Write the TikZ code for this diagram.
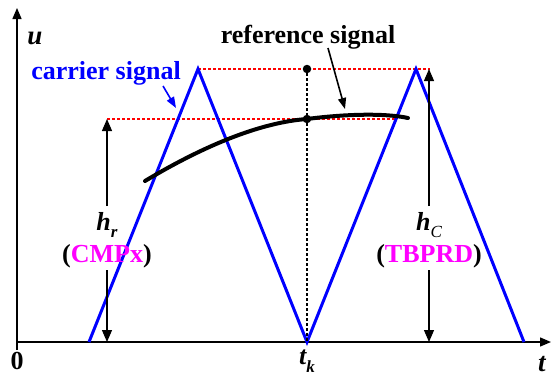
\documentclass[tikz,border=0pt]{standalone}
\usepackage{fontspec}
\setmainfont{Liberation Serif}
\usetikzlibrary{arrows.meta}
\definecolor{carrierblue}{RGB}{0,0,255}
\definecolor{regmag}{RGB}{255,0,255}
\tikzset{
  axisline/.style={line width=1.4pt,-{Triangle[length=11pt,width=9pt]}},
  carrier/.style={carrierblue,line width=3pt,line join=miter},
  refcurve/.style={black,line width=4pt,line cap=round},
  reddots/.style={red,line width=1.2pt,dash pattern=on 3pt off 2pt},
  blackdots/.style={black,line width=1.2pt,dash pattern=on 3pt off 2pt},
  dimarrow/.style={line width=1.2pt,-{Triangle[length=12pt,width=10pt]}},
  callout/.style={line width=1.6pt,-{Triangle[length=11pt,width=8pt]}},
  lbl/.style={font=\fontsize{26}{30}\selectfont\bfseries,inner sep=0pt},
  dot/.style={circle,fill=black,inner sep=0pt,minimum size=8.5pt}
}
\begin{document}
\begin{tikzpicture}[x=1pt,y=-1pt]
\useasboundingbox (0,0) rectangle (552,376);
% axes
\coordinate (O) at (17,342);
\coordinate (ytop) at (17,8);
\coordinate (xend) at (551,342);
\draw[axisline] (17,350) -- (ytop);
\draw[axisline] (O) -- (xend);
\node[lbl,font=\fontsize{27}{30}\selectfont\bfseries\itshape] (u) at (35,38) {u};
\node[lbl] (zero) at (17,361) {0};
\node[lbl,font=\fontsize{27}{30}\selectfont\bfseries\itshape,anchor=west] (t) at (538,364) {t};
\node[lbl] (tk) at (307,361) {\itshape t\raisebox{-0.3em}{\fontsize{17}{18}\selectfont k}};
% red dotted guides
\coordinate (p1) at (198,69);
\coordinate (p2) at (416,69);
\coordinate (hcTop) at (430,69);
\coordinate (hrTop) at (107,119);
\coordinate (rEnd) at (397,119);
\draw[reddots] (p1) -- (hcTop);
\draw[reddots] (hrTop) -- (rEnd);
% carrier
\coordinate (c0) at (89,342);
\coordinate (v1) at (307,342);
\coordinate (c4) at (524,342);
\draw[carrier] (c0) -- (p1) -- (v1) -- (p2) -- (c4);
% dotted vertical and dots
\node[dot] (dtop) at (307,69) {};
\node[dot] (dref) at (307,119) {};
\draw[blackdots] (dtop) -- (v1);
% reference curve
\coordinate (rs) at (145,181);
\coordinate (re) at (408,118);
\draw[refcurve] (rs) .. controls (210,142) and (265,122) .. (dref.center) .. controls (345,114) and (385,113) .. (re);
% h_r
\node[lbl] (hr) at (107,225) {\itshape h\raisebox{-0.3em}{\fontsize{17}{18}\selectfont r}};
\node[lbl] (cmpx) at (107,256) {(\textcolor{regmag}{CMPx})};
\draw[dimarrow] (107,206) -- (hrTop);
\draw[dimarrow] (107,270) -- (107,342);
% h_C
\node[lbl] (hc) at (429,225) {\itshape h\raisebox{-0.3em}{\fontsize{17}{18}\selectfont\mdseries C}};
\node[lbl] (tbprd) at (429,256) {(\textcolor{regmag}{TBPRD})};
\draw[dimarrow] (429,206) -- (429,69);
\draw[dimarrow] (429,270) -- (429,342);
% labels
\node[lbl,text=carrierblue] (carr) at (106,73) {carrier signal};
\coordinate (carrTip) at (176,108);
\draw[callout,carrierblue] (163,86) -- (carrTip);
\node[lbl] (refl) at (308,37) {reference signal};
\coordinate (refTip) at (345,109);
\draw[callout] (328,48) -- (refTip);
\end{tikzpicture}
\end{document}
